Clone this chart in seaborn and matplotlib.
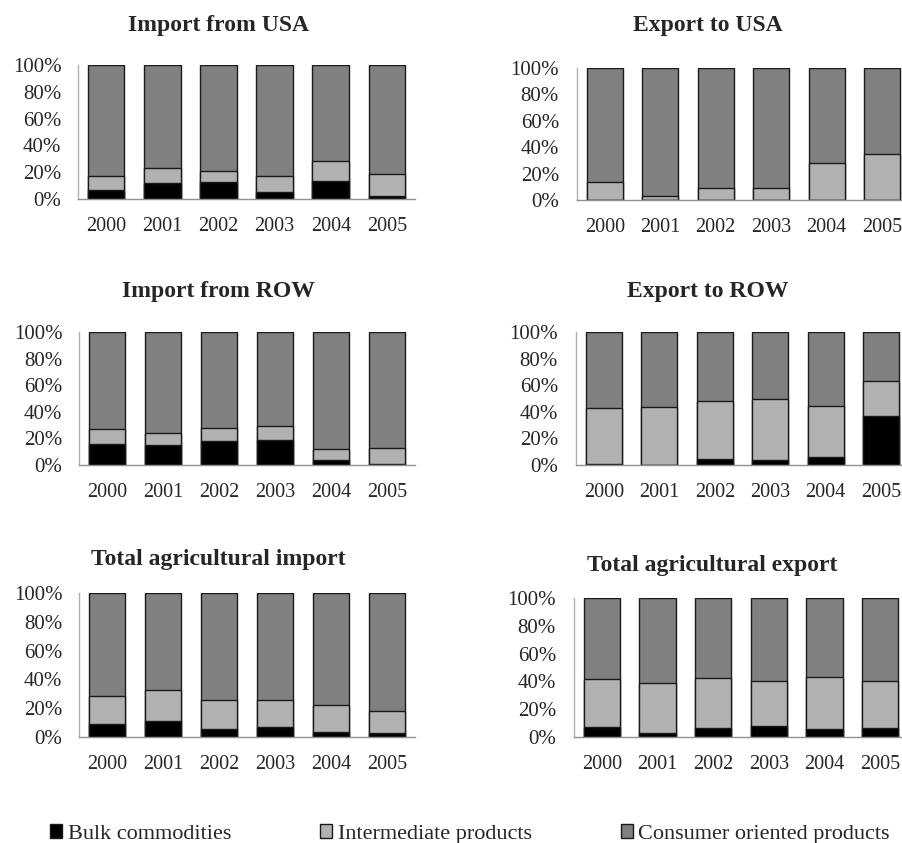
import pandas as pd  # data handling
import matplotlib.pyplot as plt  # figure layout
import seaborn as sns  # bar drawing
from matplotlib.patches import Patch

# Years on the x axis
years = ['2000', '2001', '2002', '2003', '2004', '2005']

# Shares (%): bulk / intermediate / consumer oriented
imp_usa_bulk = [6.7, 12.2, 13.0, 5.5, 13.7, 2.5]
imp_usa_inter = [10.3, 10.8, 7.6, 11.5, 14.3, 16.5]
imp_usa_cons = [83.0, 77.0, 79.4, 83.0, 72.0, 81.0]

exp_usa_bulk = [0.0, 0.0, 0.0, 0.0, 0.0, 0.0]
exp_usa_inter = [13.4, 3.0, 8.9, 8.9, 28.4, 35.0]
exp_usa_cons = [86.6, 97.0, 91.1, 91.1, 71.6, 65.0]

imp_row_bulk = [16.0, 14.8, 17.8, 18.6, 3.8, 0.5]
imp_row_inter = [11.4, 9.6, 10.1, 10.4, 8.0, 12.1]
imp_row_cons = [72.6, 75.6, 72.1, 71.0, 88.2, 87.4]

exp_row_bulk = [0.7, 0.0, 4.5, 3.8, 6.3, 37.0]
exp_row_inter = [42.0, 43.5, 43.7, 45.7, 37.7, 26.3]
exp_row_cons = [57.3, 56.5, 51.8, 50.5, 56.0, 36.7]

tot_imp_bulk = [9.3, 11.4, 5.6, 7.0, 3.5, 2.8]
tot_imp_inter = [19.5, 20.9, 20.2, 18.8, 18.4, 15.6]
tot_imp_cons = [71.2, 67.7, 74.2, 74.2, 78.1, 81.6]

tot_exp_bulk = [7.0, 3.1, 6.5, 7.9, 5.8, 6.5]
tot_exp_inter = [34.7, 35.7, 35.7, 32.1, 37.6, 33.5]
tot_exp_cons = [58.3, 61.2, 57.8, 60.0, 56.6, 60.0]

series_names = ['Bulk commodities', 'Intermediate products', 'Consumer oriented products']
colors = ['#000000', '#b2b2b2', '#808080']

panels = [
    ('Import from USA', imp_usa_bulk, imp_usa_inter, imp_usa_cons),
    ('Export to USA', exp_usa_bulk, exp_usa_inter, exp_usa_cons),
    ('Import from ROW', imp_row_bulk, imp_row_inter, imp_row_cons),
    ('Export to ROW', exp_row_bulk, exp_row_inter, exp_row_cons),
    ('Total agricultural import', tot_imp_bulk, tot_imp_inter, tot_imp_cons),
    ('Total agricultural export', tot_exp_bulk, tot_exp_inter, tot_exp_cons),
]

sns.set_style('white')
plt.rcParams['font.family'] = ['Liberation Serif', 'DejaVu Serif']

W, H = 902, 843
fig = plt.figure(figsize=(W / 100, H / 100), dpi=100)

# axes boxes in pixels: left, top, right, bottom
boxes = [
    (78, 65, 415, 199), (577, 68, 910, 200),
    (79, 332, 415, 465), (576, 332, 909, 465),
    (79, 593, 415, 737), (574, 598, 908, 737),
]
# title centres in pixels
title_pos = [(218, 25), (708, 25), (218, 292), (708, 292), (218, 560), (712, 565)]

for i, (title, bulk, inter, cons) in enumerate(panels):
    l, t, r, b = boxes[i]
    ax = fig.add_axes([l / W, 1 - b / H, (r - l) / W, (b - t) / H])
    df = pd.DataFrame({'year': years, 'bulk': bulk, 'inter': inter, 'cons': cons})
    # cumulative heights, drawn from the tallest down so they stack visually
    df['top_cons'] = df['bulk'] + df['inter'] + df['cons']
    df['top_inter'] = df['bulk'] + df['inter']
    for col, c in zip(['top_cons', 'top_inter', 'bulk'], colors[::-1]):
        sns.barplot(data=df, x='year', y=col, color=c, width=0.65,
                    edgecolor='#1a1a1a', linewidth=1, saturation=1, ax=ax)
    ax.set_ylim(0, 100)
    ax.set_xlim(-0.5, 5.5)
    ax.set_yticks([0, 20, 40, 60, 80, 100])
    ax.set_yticklabels([f'{v}%' for v in [0, 20, 40, 60, 80, 100]])
    ax.set_xlabel('')
    ax.set_ylabel('')
    ax.tick_params(axis='y', length=0, pad=12 if i % 2 == 0 else 13, labelsize=15)
    ax.tick_params(axis='x', length=0, pad=13, labelsize=14.5)
    for s in ['top', 'right']:
        ax.spines[s].set_visible(False)
    ax.spines['left'].set_color('#b0b0b0')
    ax.spines['bottom'].set_color('#909090')
    ax.spines['left'].set_linewidth(1)
    ax.spines['bottom'].set_linewidth(1)
    tx, ty = title_pos[i]
    fig.text(tx / W, 1 - ty / H, title, ha='center', va='center',
             fontsize=17, fontweight='bold')

handles = [Patch(facecolor=c, edgecolor='#1a1a1a', linewidth=1) for c in colors]
fig.legend(handles, series_names, loc='center', bbox_to_anchor=(470 / W, 1 - 834 / H),
           ncol=3, frameon=False, fontsize=16, handlelength=0.55, handleheight=0.55,
           handletextpad=0.25, columnspacing=4.0)

fig.savefig('out.png', dpi=100)
